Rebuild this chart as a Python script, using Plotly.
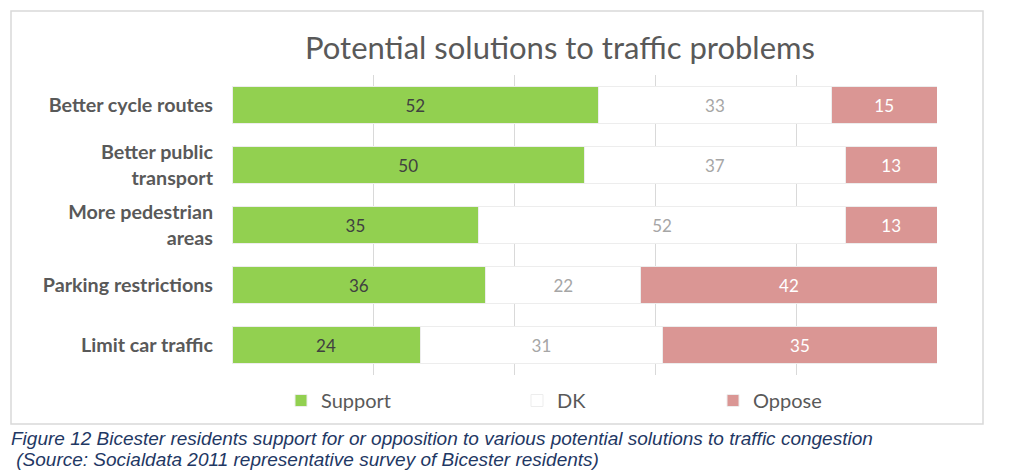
import plotly.graph_objects as go

categories = ["Better cycle routes", "Better public<br>transport", "More pedestrian<br>areas",
              "Parking restrictions", "Limit car traffic"]
support = [52, 50, 35, 36, 24]
dk = [33, 37, 52, 22, 31]
oppose = [15, 13, 13, 42, 35]

W, H = 1023, 476
L, R, T, B = 232, 937, 75, 375

def px(x):
    return (x - L) / (R - L)

def py(y):
    return (B - y) / (B - T)

FONT = "Lato"
fig = go.Figure()
series = [
    ("Support", support, "#92D050", "#404040", "legend"),
    ("DK", dk, "#FFFFFF", "#A6A6A6", "legend2"),
    ("Oppose", oppose, "#DA9694", "#FFFFFF", "legend3"),
]
for name, vals, col, tcol, lg in series:
    fig.add_trace(go.Bar(
        y=categories, x=vals, name=name, orientation="h",
        marker=dict(color=col, line=dict(color="#EDEDED", width=1)),
        text=vals, texttemplate="%{text}", textposition="inside",
        insidetextanchor="middle", textangle=0, constraintext="none",
        textfont=dict(family=FONT, size=17, color=tcol),
        legend=lg,
    ))

legend_common = dict(orientation="h", yanchor="middle", y=py(400.5), xanchor="left",
                      font=dict(family=FONT, size=20, color="#595959"),
                      bgcolor="rgba(0,0,0,0)")
fig.update_layout(
    width=W, height=H,
    margin=dict(l=L, r=W - R, t=T, b=H - B),
    barmode="stack", barnorm="percent", bargap=0.38,
    paper_bgcolor="white", plot_bgcolor="white",
    title=dict(text="Potential solutions to traffic problems", x=560 / W, xanchor="center",
               y=1 - 48 / H, yanchor="middle",
               font=dict(family=FONT, size=31, color="#595959")),
    xaxis=dict(range=[0, 100], dtick=20, showticklabels=False, showgrid=True,
               gridcolor="#D9D9D9", gridwidth=1, zeroline=False, showline=False, ticks=""),
    yaxis=dict(autorange="reversed", showgrid=False, ticks="", ticklabelstandoff=18,
               tickfont=dict(family=FONT, size=19.7, color="#595959", weight="bold")),
    legend=dict(**legend_common, x=px(281)),
    legend2=dict(**legend_common, x=px(517)),
    legend3=dict(**legend_common, x=px(713)),
    showlegend=True,
)

fig.add_shape(type="rect", xref="paper", yref="paper",
              x0=px(11), x1=px(983), y0=py(424), y1=py(11),
              line=dict(color="#D9D9D9", width=1.5), layer="below")

cap_font = dict(family="Liberation Sans", size=19, color="#1F3864", style="italic")
fig.add_annotation(text="Figure 12 Bicester residents support for or opposition to various potential solutions to traffic congestion",
                   xref="paper", yref="paper", x=px(9), y=py(438), xanchor="left", yanchor="middle",
                   showarrow=False, font=cap_font)
fig.add_annotation(text=" (Source: Socialdata 2011 representative survey of Bicester residents)",
                   xref="paper", yref="paper", x=px(9), y=py(460), xanchor="left", yanchor="middle",
                   showarrow=False, font=cap_font)

fig.write_html("out.html")
